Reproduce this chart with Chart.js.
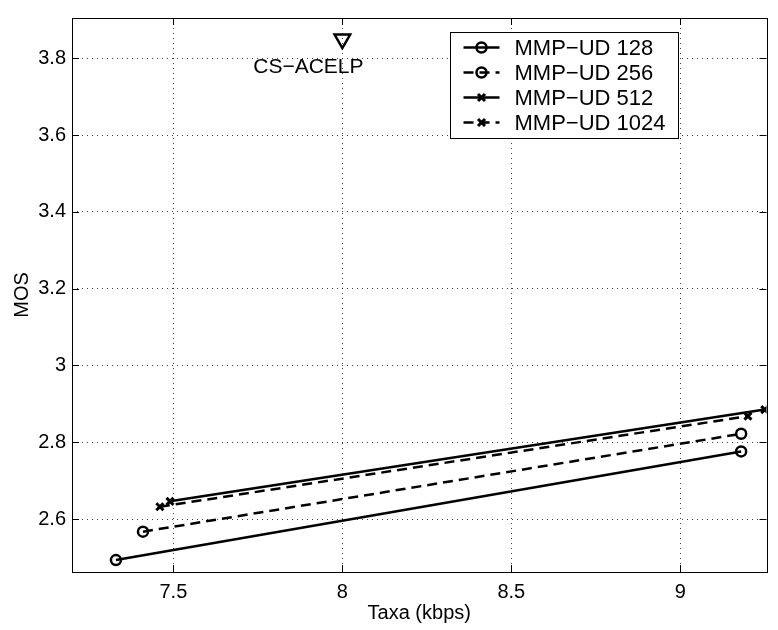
<!DOCTYPE html>
<html>
<head>
<meta charset="utf-8">
<script src="https://cdn.jsdelivr.net/npm/chart.js@4/dist/chart.umd.min.js"></script>
<style>
  html, body { margin: 0; padding: 0; background: #fff; }
  #wrap { width: 778px; height: 630px; }
</style>
</head>
<body>
<div id="wrap"><canvas id="mos-chart" width="778" height="630"></canvas></div>
<script>
// ── Data ──────────────────────────────────────────────────────
const seriesNames = ['MMP\u2212UD 128', 'MMP\u2212UD 256', 'MMP\u2212UD 512', 'MMP\u2212UD 1024'];

const rate128  = [7.33, 9.18];
const mos128   = [2.493, 2.776];
const rate256  = [7.41, 9.18];
const mos256   = [2.567, 2.822];
const rate512  = [7.49, 9.25];
const mos512   = [2.646, 2.885];
const rate1024 = [7.46, 9.20];
const mos1024  = [2.632, 2.868];

// reference codec
const refName = 'CS\u2212ACELP';
const refRate = [8.0];
const refMos  = [3.85];

const xTicks = [7.5, 8, 8.5, 9];
const yTicks = [2.6, 2.8, 3.0, 3.2, 3.4, 3.6, 3.8];

// ── Look ──────────────────────────────────────────────────────
const FONT = '"Liberation Sans", Arial, Helvetica, sans-serif';
const TICK_LEN = 7;

function pts(xs, ys) {
  return xs.map(function (x, i) { return { x: x, y: ys[i] }; });
}

function lineSet(label, xs, ys, dashed, marker) {
  return {
    label: label,
    data: pts(xs, ys),
    showLine: true,
    borderColor: '#000',
    borderWidth: 2.5,
    borderDash: dashed ? [10, 6] : [],
    pointStyle: marker,
    pointRadius: 5,
    pointBorderWidth: marker === 'circle' ? 2.5 : 3,
    pointBorderColor: '#000',
    pointBackgroundColor: 'rgba(0,0,0,0)',
    pointHoverRadius: 5
  };
}

// ── Plugin: frame + inward ticks (MATLAB style box) ───────────
const boxPlugin = {
  id: 'box',
  afterDatasetsDraw: function (chart) {
    const ctx = chart.ctx;
    const a = chart.chartArea;
    const xs = chart.scales.x, ys = chart.scales.y;
    ctx.save();
    ctx.strokeStyle = '#000';
    ctx.lineWidth = 1;
    ctx.setLineDash([]);
    ctx.beginPath();
    xTicks.forEach(function (v) {
      const px = Math.round(xs.getPixelForValue(v)) + 0.5;
      ctx.moveTo(px, a.bottom); ctx.lineTo(px, a.bottom - TICK_LEN);
      ctx.moveTo(px, a.top);    ctx.lineTo(px, a.top + TICK_LEN);
    });
    yTicks.forEach(function (v) {
      const py = Math.round(ys.getPixelForValue(v)) + 0.5;
      ctx.moveTo(a.left, py);  ctx.lineTo(a.left + TICK_LEN, py);
      ctx.moveTo(a.right, py); ctx.lineTo(a.right - TICK_LEN, py);
    });
    ctx.stroke();
    ctx.strokeRect(Math.round(a.left) + 0.5, Math.round(a.top) + 0.5,
                   Math.round(a.right - a.left), Math.round(a.bottom - a.top));
    ctx.restore();
  }
};

// ── Plugin: text label under the reference marker ─────────────
const refLabelPlugin = {
  id: 'refLabel',
  afterDatasetsDraw: function (chart) {
    const ctx = chart.ctx;
    const px = chart.scales.x.getPixelForValue(refRate[0]);
    const py = chart.scales.y.getPixelForValue(refMos[0]);
    ctx.save();
    ctx.fillStyle = '#000';
    ctx.font = '21px ' + FONT;
    ctx.textAlign = 'center';
    ctx.textBaseline = 'middle';
    ctx.fillText(refName, px - 34, py + 28);
    ctx.restore();
  }
};

// ── Plugin: legend inside the plot, top right ────────────────
function drawMarker(ctx, style, x, y, r) {
  ctx.beginPath();
  if (style === 'circle') {
    ctx.arc(x, y, r, 0, Math.PI * 2);
  } else {
    ctx.moveTo(x - r * 0.7, y - r * 0.7); ctx.lineTo(x + r * 0.7, y + r * 0.7);
    ctx.moveTo(x + r * 0.7, y - r * 0.7); ctx.lineTo(x - r * 0.7, y + r * 0.7);
  }
  ctx.stroke();
}

const legendPlugin = {
  id: 'boxLegend',
  afterDraw: function (chart) {
    const ctx = chart.ctx;
    const a = chart.chartArea;
    const w = 228, h = 106;
    const left = Math.round(a.right - 89 - w) + 0.5;
    const top = Math.round(a.top + 14) + 0.5;
    ctx.save();
    ctx.fillStyle = '#fff';
    ctx.fillRect(left, top, w, h);
    ctx.strokeStyle = '#000';
    ctx.lineWidth = 1;
    ctx.strokeRect(left, top, w, h);
    ctx.font = '22px ' + FONT;
    ctx.textBaseline = 'middle';
    ctx.textAlign = 'left';
    for (let i = 0; i < 4; i++) {
      const ds = chart.data.datasets[i];
      const y = top + 15 + i * 25;
      ctx.lineWidth = ds.borderWidth;
      ctx.setLineDash(ds.borderDash);
      ctx.beginPath();
      ctx.moveTo(left + 13, y); ctx.lineTo(left + 49, y);
      ctx.stroke();
      ctx.setLineDash([]);
      ctx.lineWidth = ds.pointBorderWidth;
      drawMarker(ctx, ds.pointStyle, left + 31, y, ds.pointRadius);
      ctx.fillStyle = '#000';
      ctx.fillText(ds.label, left + 64, y + 1);
    }
    ctx.restore();
  }
};

// ── Chart ─────────────────────────────────────────────────────
new Chart(document.getElementById('mos-chart'), {
  type: 'scatter',
  data: {
    datasets: [
      lineSet(seriesNames[0], rate128,  mos128,  false, 'circle'),
      lineSet(seriesNames[1], rate256,  mos256,  true,  'circle'),
      lineSet(seriesNames[2], rate512,  mos512,  false, 'crossRot'),
      lineSet(seriesNames[3], rate1024, mos1024, true,  'crossRot'),
      {
        label: refName,
        data: pts(refRate, refMos),
        showLine: false,
        pointStyle: 'triangle',
        rotation: 180,
        pointRadius: 9,
        pointBorderWidth: 2.5,
        pointBorderColor: '#000',
        pointBackgroundColor: 'rgba(0,0,0,0)'
      }
    ]
  },
  options: {
    responsive: false,
    devicePixelRatio: 1,
    animation: false,
    layout: { padding: { top: 8, right: 7, left: 0, bottom: 0 } },
    plugins: {
      legend: { display: false },
      tooltip: { enabled: false }
    },
    scales: {
      x: {
        type: 'linear',
        min: 7.2,
        max: 9.255,
        afterBuildTicks: function (s) { s.ticks = xTicks.map(function (v) { return { value: v }; }); },
        afterFit: function (s) { s.height = 58; },
        grid: { color: 'rgba(0,0,0,0.75)', lineWidth: 1, drawTicks: false },
        border: { display: false, dash: [1, 4] },
        ticks: {
          color: '#000', padding: 8, maxRotation: 0,
          font: { family: FONT, size: 20 },
          callback: function (v) { return String(Math.round(v * 10) / 10); }
        },
        title: {
          display: true, text: 'Taxa (kbps)', color: '#000',
          font: { family: FONT, size: 20 }, padding: { top: 0, bottom: 5 }
        }
      },
      y: {
        type: 'linear',
        min: 2.462,
        max: 3.905,
        afterBuildTicks: function (s) { s.ticks = yTicks.map(function (v) { return { value: v }; }); },
        afterFit: function (s) { s.width = 72; },
        grid: { color: 'rgba(0,0,0,0.75)', lineWidth: 1, drawTicks: false },
        border: { display: false, dash: [1, 4] },
        ticks: {
          color: '#000', padding: 6,
          font: { family: FONT, size: 20 },
          callback: function (v) { return String(Math.round(v * 10) / 10); }
        },
        title: {
          display: true, text: 'MOS', color: '#000',
          font: { family: FONT, size: 20 }, padding: { top: 10, bottom: 0 }
        }
      }
    }
  },
  plugins: [boxPlugin, refLabelPlugin, legendPlugin]
});
</script>
</body>
</html>
